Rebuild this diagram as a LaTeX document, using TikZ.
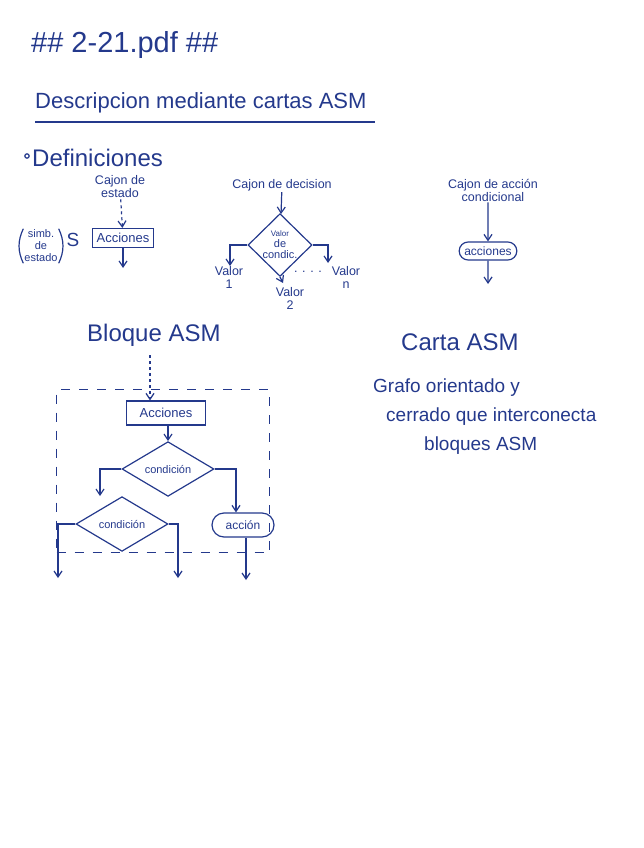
\documentclass[tikz,border=0pt]{standalone}
\usepackage{fontspec}
\setmainfont{Liberation Sans}
\usetikzlibrary{arrows.meta,positioning,shapes.geometric,shapes.misc,calc}
\definecolor{tinta}{HTML}{24398C}
\tikzset{
  trazo/.style={draw=tinta, line width=1.2pt},
  fl/.style={trazo, -{Straight Barb[length=6pt,width=8pt]}},
  rot/.style={text=tinta, inner sep=1pt, align=center},
  titulo/.style={rot, font=\fontsize{24}{26}\selectfont},
  grande/.style={rot, font=\fontsize{22}{24}\selectfont},
  chico/.style={rot, font=\fontsize{12.5}{13}\selectfont},
  txt/.style={rot, font=\fontsize{19}{22}\selectfont},
  caja/.style={trazo, rectangle, inner xsep=4pt, minimum height=19pt,
               font=\fontsize{13}{14}\selectfont, text=tinta},
  rombo/.style={trazo, diamond, inner sep=0pt, align=center, text=tinta,
                font=\fontsize{11}{11}\selectfont},
  ovalo/.style={trazo, rounded rectangle, inner xsep=4pt, minimum height=18pt,
                font=\fontsize{12}{13}\selectfont, text=tinta},
  limite/.style={trazo, dash pattern=on 9pt off 9pt},
}
\begin{document}
\begin{tikzpicture}[x=1pt, y=-1pt]
  \useasboundingbox (0,0) rectangle (643,848);

  % --- encabezado ---
  \node[titulo, anchor=west, font=\fontsize{29}{30}\selectfont] (arch) at (30,45) {\#\# 2-21.pdf \#\#};
  \node[grande, anchor=west] (desc) at (34,103) {Descripcion mediante cartas ASM};
  \draw[trazo] (35,122) -- (375,122);
  \draw[trazo] (27,156) circle (2.2);
  \node[grande, anchor=west, font=\fontsize{24}{26}\selectfont] (defs) at (31,158) {Definiciones};

  % --- cajon de estado ---
  \node[chico] (ce) at (120,187) {Cajon de\\estado};
  \node[caja] (acc) at (123,238) {Acciones};
  \draw[fl, dashed] (ce) -- (acc);
  \coordinate (accs) at (123,268);
  \draw[fl] (acc) -- (accs);
  \node[chico, font=\fontsize{11}{12}\selectfont] (simb) at (41,246) {simb.\\de\\estado};
  \draw[trazo] (simb.north west) to[bend right=25] (simb.south west);
  \draw[trazo] (simb.north east) to[bend left=25] (simb.south east);
  \node[txt] (s) at (73,240) {S};

  % --- cajon de decision ---
  \node[chico] (cd) at (282,185) {Cajon de decision};
  \node[rombo, minimum width=64pt, minimum height=46pt] (dec) at (280,245)
       {\fontsize{8}{8}\selectfont Valor\\de\\condic.};
  \draw[fl] (cd) -- (dec);
  \coordinate (v1) at (230,266);
  \coordinate (vn) at (328,263);
  \coordinate (v2) at (283,283);
  \draw[fl] (dec.west) -| (v1);
  \draw[fl] (dec.east) -| (vn);
  \draw[fl] (dec.south) -- (v2);
  \node[chico] (val1) at (229,277) {Valor\\1};
  \node[chico] (val2) at (290,298) {Valor\\2};
  \node[chico] (valn) at (346,277) {Valor\\n};
  \node[chico] (pts) at (308,272) {. . . .};

  % --- cajon de accion condicional ---
  \node[chico] (cac) at (493,190) {Cajon de acción\\condicional};
  \node[ovalo] (acs) at (488,251) {acciones};
  \draw[fl] (cac.south -| acs) -- (acs);
  \coordinate (acss) at (488,284);
  \draw[fl] (acs) -- (acss);

  % --- bloque ASM ---
  \node[titulo, anchor=west] (blq) at (86,335) {Bloque ASM};
  \node[limite, minimum width=213pt, minimum height=163pt] (marco) at (163,471) {};
  \node[caja, minimum width=79pt, minimum height=24pt] (bacc) at (166,413) {Acciones};
  \draw[fl, dashed] (150,355) -- (bacc.north -| 150,0);
  \node[rombo, minimum width=92pt, minimum height=47pt] (c1) at (168,469) {condición};
  \draw[fl] (bacc.south -| c1) -- (c1.north);
  \node[rombo, minimum width=92pt, minimum height=42pt] (c2) at (122,524) {condición};
  \node[ovalo, minimum width=70pt, minimum height=24pt] (ac) at (243,525) {acción};
  \draw[fl] (c1.west) -| (c2.north -| 100,0);
  \draw[fl] (c1.east) -| (ac.north -| 236,0);
  \coordinate (s1) at (58,578);
  \coordinate (s2) at (178,578);
  \coordinate (s3) at (246,580);
  \draw[fl] (c2.west) -| (s1);
  \draw[fl] (c2.east) -| (s2);
  \draw[fl] (ac.south -| s3) -- (s3);

  % --- carta ASM ---
  \node[titulo, anchor=west] (carta) at (400,342) {Carta ASM};
  \node[txt, anchor=west] (g1) at (372,388) {Grafo orientado y};
  \node[txt, anchor=west] (g2) at (385,417) {cerrado que interconecta};
  \node[txt, anchor=west] (g3) at (423,446) {bloques ASM};
\end{tikzpicture}
\end{document}
